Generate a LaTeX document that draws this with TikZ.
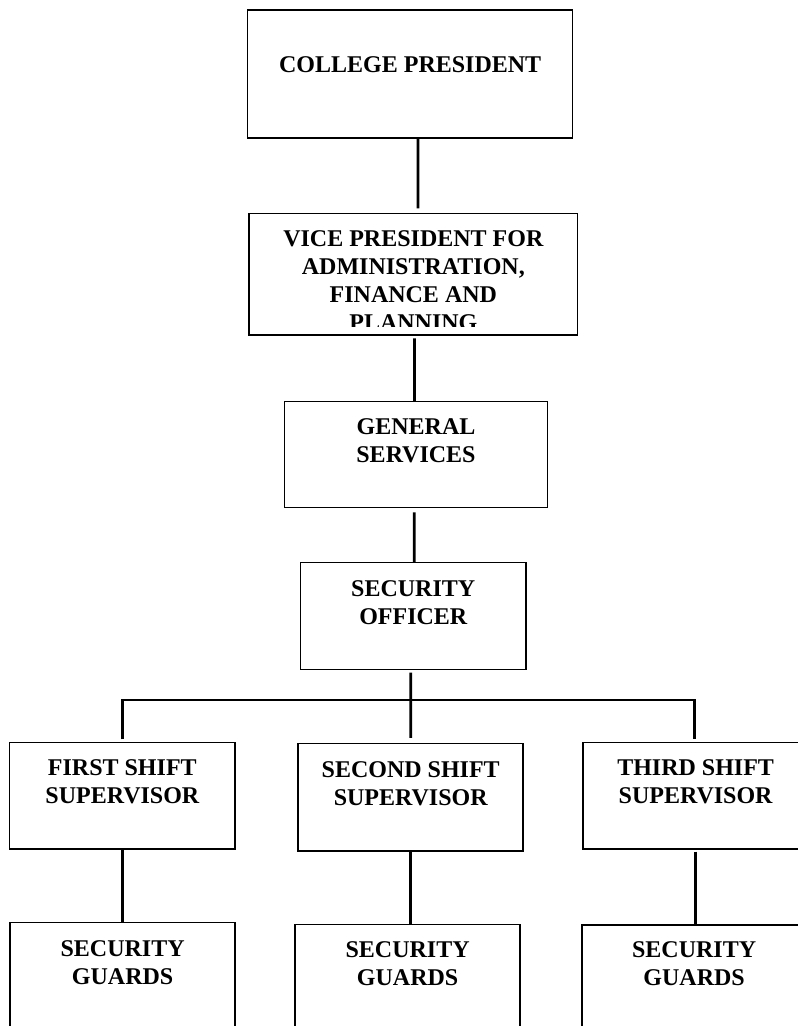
\documentclass[tikz,border=0pt]{standalone}
\usepackage{fontspec}
\setmainfont{Liberation Serif}
\usetikzlibrary{calc}
\tikzset{
  orgbox/.style 2 args={draw=black, line width=1.1pt, rectangle, inner sep=0pt,
    minimum width=#1*0.75pt, minimum height=#2*0.75pt},
  orgtext/.style={align=center, inner sep=0pt, font=\bfseries\fontsize{18}{21}\selectfont},
  conn/.style={draw=black, line width=2pt}
}
\begin{document}
\begin{tikzpicture}[x=0.75pt,y=-0.75pt]
\useasboundingbox (0,0) rectangle (798,1026);
\clip (0,0) rectangle (798,1026);
\fill[white] (0,0) rectangle (798,1026);

% boxes
\node[orgbox={325}{128}]   (cp) at (410.2,74) {};
\node[orgbox={328.7}{121.3}] (vp) at (413.35,274.35) {};
\node[orgbox={263.4}{106}] (gs) at (416,454.7) {};
\node[orgbox={225.5}{106.6}] (so) at (413.25,616) {};
\node[orgbox={225.3}{106.3}] (fs) at (122.35,795.85) {};
\node[orgbox={225}{107.3}]   (ss) at (410.7,797.35) {};
\node[orgbox={224.8}{106.3}] (ts) at (695.6,795.85) {};
\node[orgbox={224.8}{130}]   (ga) at (122.6,987.7) {};
\node[orgbox={224.8}{130}]   (gb) at (407.6,989.3) {};
\node[orgbox={223.8}{130}]   (gc) at (694.1,990) {};

% texts
\node[orgtext] (tcp) at (410.2,65) {COLLEGE PRESIDENT};
\begin{scope}
  \clip ([xshift=1pt,yshift=-1pt]vp.north west) rectangle ([xshift=-1pt,yshift=6.75pt]vp.south east);
  \node[orgtext] (tvp) at (413.35,281) {VICE PRESIDENT FOR\\ADMINISTRATION,\\FINANCE AND\\PLANNING};
\end{scope}
\node[orgtext] (tgs) at (416,441) {GENERAL\\SERVICES};
\node[orgtext] (tso) at (413.25,602.5) {SECURITY\\OFFICER};
\node[orgtext] (tfs) at (122.35,782.2) {FIRST SHIFT\\SUPERVISOR};
\node[orgtext] (tss) at (410.7,783.7) {SECOND SHIFT\\SUPERVISOR};
\node[orgtext] (tts) at (695.6,782) {THIRD SHIFT\\SUPERVISOR};
\node[orgtext] (tga) at (122.6,962.5) {SECURITY\\GUARDS};
\node[orgtext] (tgb) at (407.6,963.7) {SECURITY\\GUARDS};
\node[orgtext] (tgc) at (694.1,963.5) {SECURITY\\GUARDS};

% connectors
\draw[conn] ([xshift=5.85pt]cp.south) -- ([xshift=3.5pt,yshift=3.5pt]vp.north);
\draw[conn] ([xshift=0.9pt,yshift=-2pt]vp.south) -- ([xshift=-1.1pt]gs.north);
\draw[conn] ([xshift=-1.3pt,yshift=-3pt]gs.south) -- ([xshift=0.8pt]so.north);
\draw[conn] ([xshift=-1.9pt,yshift=-2pt]so.south) -- ([yshift=3.75pt]ss.north);
\coordinate (bus) at (410.7,700);
\draw[conn] ([yshift=2pt]fs.north) |- (bus) -| ([xshift=-0.7pt,yshift=2pt]ts.north);
\draw[conn] (fs.south) -- (fs.south |- ga.north);
\draw[conn] (ss.south) -- (ss.south |- gb.north);
\draw[conn] ([yshift=-1.5pt]ts.south) -- (ts.south |- gc.north);
\end{tikzpicture}
\end{document}
